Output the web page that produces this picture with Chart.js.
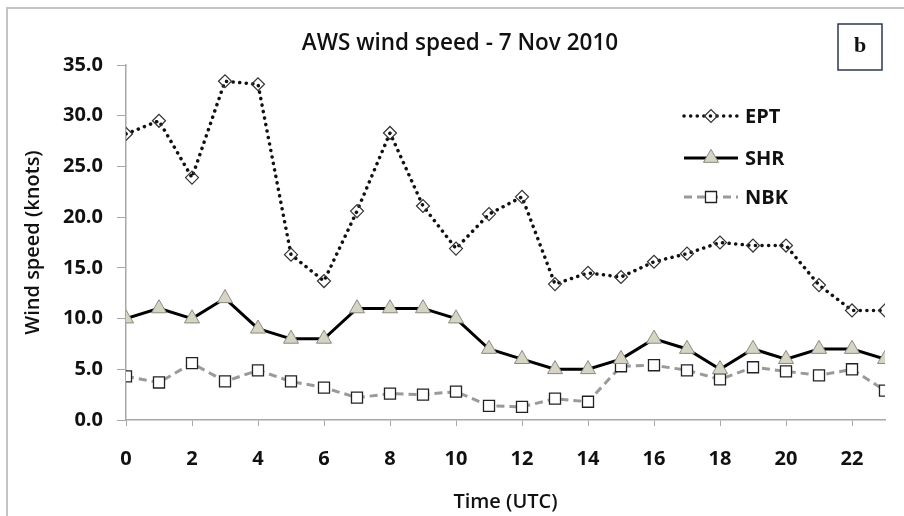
<!DOCTYPE html>
<html>
<head>
<meta charset="utf-8">
<title>AWS wind speed - 7 Nov 2010</title>
<script src="https://cdn.jsdelivr.net/npm/chart.js@4.4.1/dist/chart.umd.min.js"></script>
<style>
    html, body { margin: 0; padding: 0; background: #fff; overflow: hidden; }
    #marco { position: absolute; left: 6px; top: 7px; width: 940px; height: 560px;
             border-left: 2px solid #c4c4c4; border-top: 2px solid #c4c4c4; }
    #grafico { position: absolute; left: 0; top: 0; }
</style>
</head>
<body>
<div id="marco"></div>
<canvas id="grafico" width="904" height="516"></canvas>
<script>
// Datos (velocidad del viento en nudos, por hora UTC)
const horas = [0, 1, 2, 3, 4, 5, 6, 7, 8, 9, 10, 11, 12, 13, 14, 15, 16, 17, 18, 19, 20, 21, 22, 23];
const ept = [28.2, 29.5, 23.9, 33.4, 33.1, 16.3, 13.7, 20.6, 28.3, 21.1, 16.9, 20.3, 22.0, 13.4, 14.5, 14.1, 15.6, 16.4, 17.5, 17.2, 17.2, 13.3, 10.8, 10.8];
const shr = [10, 11, 10, 12, 9, 8, 8, 11, 11, 11, 10, 7, 6, 5, 5, 6, 8, 7, 5, 7, 6, 7, 7, 6];
const nbk = [4.3, 3.7, 5.6, 3.8, 4.9, 3.8, 3.2, 2.2, 2.6, 2.5, 2.8, 1.4, 1.3, 2.1, 1.8, 5.3, 5.4, 4.9, 4.0, 5.2, 4.8, 4.4, 5.0, 2.9];
const ticksX = [0, 2, 4, 6, 8, 10, 12, 14, 16, 18, 20, 22];
const ticksY = [0, 5, 10, 15, 20, 25, 30, 35];

const fuente = '"Open Sans", "DejaVu Sans", sans-serif';
const gris = '#a8a8a8';

function puntos(valores) {
    return horas.map((h, i) => ({ x: h, y: valores[i] }));
}

// Título, recuadro "b" y leyenda dibujados a mano
const extras = {
    id: 'extras',
    afterDraw(chart) {
        const ctx = chart.ctx;
        ctx.save();

        // Título
        ctx.fillStyle = '#111';
        ctx.font = '600 22.5px ' + fuente;
        ctx.textAlign = 'center';
        ctx.textBaseline = 'middle';
        ctx.fillText('AWS wind speed - 7 Nov 2010', 460, 44);

        // Recuadro "b"
        ctx.strokeStyle = '#2b3850';
        ctx.lineWidth = 1.5;
        ctx.strokeRect(838, 24, 44, 46);
        ctx.font = 'bold 22px "Liberation Serif", "DejaVu Serif", serif';
        ctx.fillStyle = '#111';
        ctx.fillText('b', 860, 46);

        // Leyenda
        const filas = [116, 158, 197];
        chart.data.datasets.forEach((ds, i) => {
            const y = filas[i];
            ctx.beginPath();
            ctx.setLineDash(ds.borderDash || []);
            ctx.lineCap = ds.borderCapStyle || 'butt';
            ctx.strokeStyle = ds.borderColor;
            ctx.lineWidth = ds.borderWidth;
            ctx.moveTo(684, y);
            ctx.lineTo(738, y);
            ctx.stroke();
            ctx.setLineDash([]);
            ctx.lineCap = 'butt';
            ctx.fillStyle = ds.pointBackgroundColor;
            ctx.strokeStyle = ds.pointBorderColor;
            ctx.lineWidth = ds.pointBorderWidth;
            Chart.helpers.drawPoint(ctx, {
                pointStyle: ds.pointStyle,
                radius: ds.pointRadius,
                rotation: 0,
                borderWidth: ds.pointBorderWidth
            }, 711, y);
            ctx.fillStyle = '#111';
            ctx.font = 'bold 20px ' + fuente;
            ctx.textAlign = 'left';
            ctx.fillText(ds.label, 745, y + 1);
        });
        ctx.restore();
    }
};

new Chart(document.getElementById('grafico'), {
    type: 'line',
    data: {
        datasets: [
            {
                label: 'EPT',
                data: puntos(ept),
                borderColor: '#111',
                borderWidth: 3.5,
                borderDash: [0.1, 6.5],
                borderCapStyle: 'round',
                pointStyle: 'rectRot',
                pointRadius: 6.5,
                pointBackgroundColor: 'rgba(255,255,255,0)',
                pointBorderColor: '#333',
                pointBorderWidth: 1.2
            },
            {
                label: 'SHR',
                data: puntos(shr),
                borderColor: '#000',
                borderWidth: 3,
                pointStyle: 'triangle',
                pointRadius: 8.7,
                pointBackgroundColor: '#d6d5c3',
                pointBorderColor: '#8a8a80',
                pointBorderWidth: 1
            },
            {
                label: 'NBK',
                data: puntos(nbk),
                borderColor: '#9a9a9a',
                borderWidth: 3,
                borderDash: [8, 5],
                pointStyle: 'rect',
                pointRadius: 7.8,
                pointBackgroundColor: '#fff',
                pointBorderColor: '#222',
                pointBorderWidth: 1.3
            }
        ]
    },
    options: {
        responsive: false,
        animation: false,
        layout: { padding: { top: 65, right: 19, left: 0, bottom: 0 } },
        plugins: {
            legend: { display: false },
            tooltip: { enabled: false }
        },
        scales: {
            x: {
                type: 'linear',
                min: 0,
                max: 23,
                afterBuildTicks: s => { s.ticks = ticksX.map(v => ({ value: v })); },
                afterFit: s => { s.height = 96; },
                ticks: {
                    color: '#111',
                    font: { family: fuente, size: 20, weight: 'bold' },
                    padding: 21,
                    maxRotation: 0,
                    callback: v => String(v)
                },
                grid: { drawOnChartArea: false, tickLength: 6, color: gris },
                border: { color: gris, width: 1.5 },
                title: {
                    display: true,
                    text: 'Time (UTC)',
                    color: '#111',
                    font: { family: fuente, size: 20, weight: '600' },
                    padding: { top: 2, bottom: 2 }
                }
            },
            y: {
                min: 0,
                max: 35,
                afterBuildTicks: s => { s.ticks = ticksY.map(v => ({ value: v })); },
                afterFit: s => { s.width = 126; },
                ticks: {
                    color: '#111',
                    font: { family: fuente, size: 20, weight: 'bold' },
                    padding: 14,
                    callback: v => v.toFixed(1)
                },
                grid: { drawOnChartArea: false, tickLength: 9, color: gris },
                border: { color: gris, width: 1.5 },
                title: {
                    display: true,
                    text: 'Wind speed (knots)',
                    color: '#111',
                    font: { family: fuente, size: 20, weight: '600' },
                    padding: { top: 21, bottom: 4 }
                }
            }
        }
    },
    plugins: [extras]
});
</script>
</body>
</html>
